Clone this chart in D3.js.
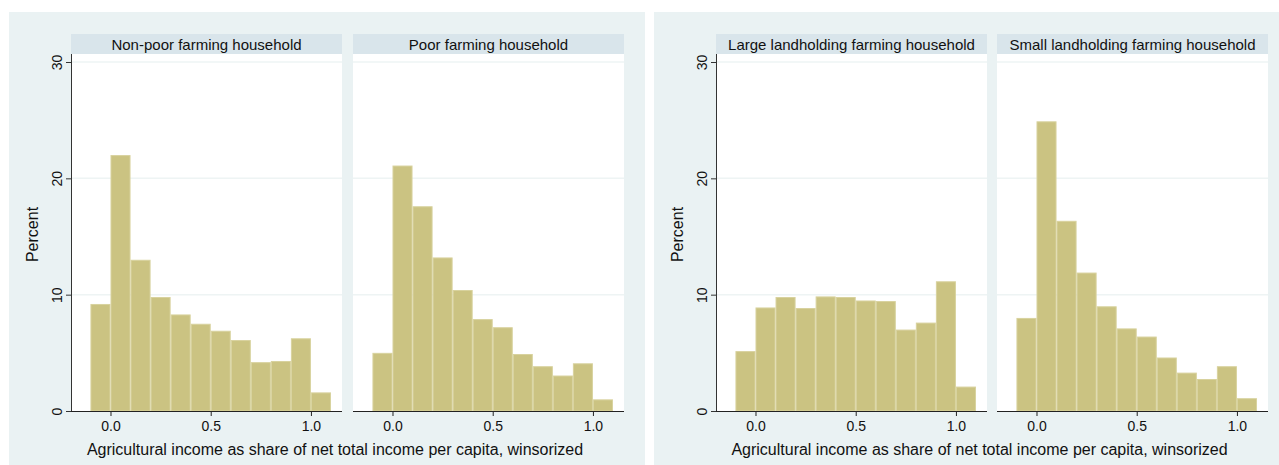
<!DOCTYPE html>
<html>
<head>
<meta charset="utf-8">
<script src="https://cdn.jsdelivr.net/npm/d3@7"></script>
<style>
  html, body { margin: 0; padding: 0; background: #ffffff; }
  svg { display: block; font-family: "Liberation Sans", Arial, Helvetica, sans-serif; }
</style>
</head>
<body>
<svg id="chart" width="1279" height="465"></svg>
<script>
// Histogram bins: left edge of each 0.1-wide bin
const binStarts = [-0.1, 0.0, 0.1, 0.2, 0.3, 0.4, 0.5, 0.6, 0.7, 0.8, 0.9, 1.0];
const binWidth = 0.1;

// Percent of households per bin
const nonPoor = [9.2, 22.0, 13.0, 9.8, 8.3, 7.5, 6.9, 6.1, 4.2, 4.3, 6.25, 1.6];
const poor    = [5.0, 21.1, 17.6, 13.2, 10.4, 7.9, 7.2, 4.9, 3.85, 3.05, 4.1, 1.0];
const large   = [5.15, 8.9, 9.8, 8.85, 9.85, 9.8, 9.5, 9.45, 7.0, 7.6, 11.15, 2.1];
const small   = [8.0, 24.9, 16.35, 11.9, 9.0, 7.1, 6.4, 4.6, 3.3, 2.75, 3.85, 1.1];

const facetTitles = [
  "Non-poor farming household", "Poor farming household",
  "Large landholding farming household", "Small landholding farming household"
];
const xTicks = [0, 0.5, 1.0];
const yTicks = [0, 10, 20, 30];
const xTitle = "Agricultural income as share of net total income per capita, winsorized";
const yTitle = "Percent";

const graphs = [
  { left: 9,   width: 636, facets: [{ x: 71,  title: facetTitles[0], values: nonPoor },
                                    { x: 353, title: facetTitles[1], values: poor }] },
  { left: 654, width: 625, facets: [{ x: 716, title: facetTitles[2], values: large },
                                    { x: 997, title: facetTitles[3], values: small }] }
];

const svg = d3.select("#chart");
const panelTop = 12, stripTop = 34, plotTop = 54, plotBottom = 411, facetW = 271;

const y = d3.scaleLinear().domain([0, 30]).range([plotBottom, 62]);
const x = d3.scaleLinear().domain([-0.197, 1.155]).range([0, facetW]);

graphs.forEach(g => {
  const gg = svg.append("g");
  gg.append("rect")
    .attr("x", g.left).attr("y", panelTop)
    .attr("width", g.width).attr("height", 465 - panelTop)
    .attr("fill", "#eaf2f3");

  g.facets.forEach((f, i) => {
    const fg = gg.append("g").attr("transform", `translate(${f.x},0)`);

    // strip header
    fg.append("rect").attr("x", 0).attr("y", stripTop)
      .attr("width", facetW).attr("height", plotTop - stripTop)
      .attr("fill", "#d9e5eb");
    fg.append("text").attr("x", facetW / 2).attr("y", 49.5)
      .attr("text-anchor", "middle").attr("font-size", 15).attr("fill", "#111")
      .text(f.title);

    // plot region
    fg.append("rect").attr("x", 0).attr("y", plotTop)
      .attr("width", facetW).attr("height", plotBottom - plotTop)
      .attr("fill", "#ffffff");

    // gridlines
    fg.selectAll("line.grid").data(yTicks.filter(t => t > 0)).join("line")
      .attr("class", "grid")
      .attr("x1", 0).attr("x2", facetW)
      .attr("y1", d => y(d)).attr("y2", d => y(d))
      .attr("stroke", "#eef4f4").attr("stroke-width", 1.5);

    // bars
    fg.selectAll("rect.bar").data(f.values.map((v, k) => ({ x0: binStarts[k], v }))).join("rect")
      .attr("class", "bar")
      .attr("x", d => x(d.x0) + 0.5)
      .attr("width", d => x(d.x0 + binWidth) - x(d.x0) - 1)
      .attr("y", d => y(d.v) + 0.5)
      .attr("height", d => plotBottom - y(d.v) - 0.5)
      .attr("fill", "#cbc382")
      .attr("stroke", "#d8d29e").attr("stroke-width", 1);

    // x axis
    const xAxis = d3.axisBottom(x).tickValues(xTicks).tickFormat(d3.format(".1f"))
      .tickSize(5).tickPadding(5);
    const xa = fg.append("g").attr("transform", `translate(0,${plotBottom})`).call(xAxis);
    xa.select(".domain").attr("stroke", "#222").attr("d", `M0,0.5H${facetW}`);
    xa.selectAll(".tick line").attr("stroke", "#222");
    xa.selectAll(".tick text").attr("font-size", 14).attr("fill", "#111")
      .attr("font-family", "'Liberation Sans', Arial, sans-serif");

    // y axis on first facet of each graph
    if (i === 0) {
      const yAxis = d3.axisLeft(y).tickValues(yTicks).tickSize(5).tickPadding(0);
      const ya = fg.append("g").call(yAxis);
      ya.select(".domain").attr("stroke", "#333").attr("d", `M0.5,${plotTop}V${plotBottom}`);
      ya.selectAll(".tick line").attr("stroke", "#333");
      ya.selectAll(".tick text").remove();
      ya.selectAll(".tick").append("text")
        .attr("transform", "translate(-9,0) rotate(-90)")
        .attr("text-anchor", "middle").attr("dy", "0")
        .attr("font-size", 14).attr("fill", "#111")
        .attr("font-family", "'Liberation Sans', Arial, sans-serif")
        .text(d => d);
      fg.append("text")
        .attr("transform", `translate(-33,${(plotTop + plotBottom) / 2 + 2}) rotate(-90)`)
        .attr("text-anchor", "middle").attr("font-size", 16).attr("fill", "#111")
        .text(yTitle);
    }
  });

  // x axis title
  const f0 = g.facets[0].x, f1 = g.facets[1].x + facetW;
  gg.append("text").attr("x", (f0 + f1) / 2 - 12.5).attr("y", 454.5)
    .attr("text-anchor", "middle").attr("font-size", 16).attr("fill", "#111")
    .text(xTitle);
});
</script>
</body>
</html>
